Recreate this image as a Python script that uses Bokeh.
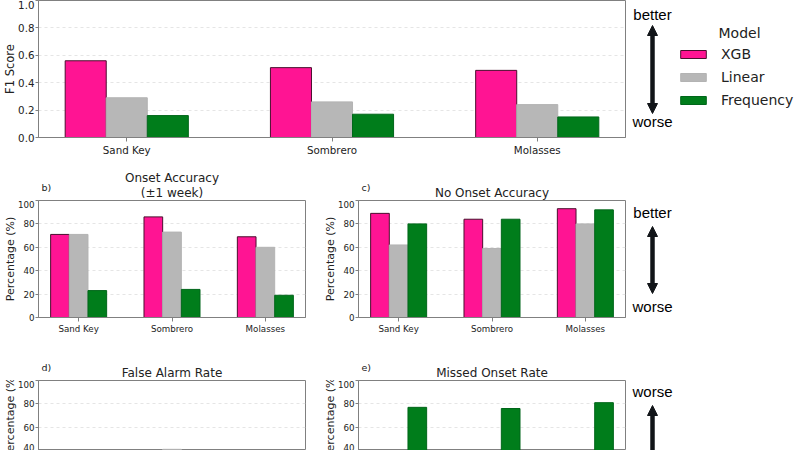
from bokeh.plotting import figure
from bokeh.models import (ColumnDataSource, Range1d, FixedTicker, Arrow, NormalHead,
                          Legend, LegendItem, PrintfTickFormatter)
from bokeh.core.properties import value
from bokeh.transform import dodge
from bokeh.layouts import column, row
from bokeh.embed import file_html
from bokeh.resources import INLINE

# --- data -------------------------------------------------------------
sites = ["Sand Key", "Sombrero", "Molasses"]
models = ["XGB", "Linear", "Frequency"]

f1_xgb = [0.56, 0.51, 0.49]
f1_linear = [0.29, 0.26, 0.24]
f1_frequency = [0.16, 0.17, 0.15]

onset_xgb = [71, 86, 69]
onset_linear = [71, 73, 60]
onset_frequency = [23, 24, 19]

no_onset_xgb = [89, 84, 93]
no_onset_linear = [62, 59, 80]
no_onset_frequency = [80, 84, 92]

false_alarm_xgb = [11, 16, 7]
false_alarm_linear = [38, 41, 20]
false_alarm_frequency = [20, 16, 8]

missed_xgb = [29, 14, 31]
missed_linear = [29, 27, 40]
missed_frequency = [77, 76, 81]

f1_ticks = [0.0, 0.2, 0.4, 0.6, 0.8, 1.0]
pct_ticks = [0, 20, 40, 60, 80, 100]

# --- styling ----------------------------------------------------------
FILL = {"XGB": "#FF1493", "Linear": "#B7B7B7", "Frequency": "#007D1B"}
EDGE = {"XGB": "#4A0F2E", "Linear": "#B3B3B3", "Frequency": "#00661A"}
OFFSET = {"XGB": -0.2, "Linear": 0.0, "Frequency": 0.2}
BAR_W = 0.2
SPINE = "#808080"
FONT = "DejaVu Sans"
ARROW_FONT = "Liberation Sans"
INK = "#111418"
TEXT = "#222222"


def make_panel(width, height, borders, y_start, y_end, ticks, values, ylabel,
               tick_px, label_px, show_x=True, y_fmt=None):
    top, right, bottom, left = borders
    p = figure(width=width, height=height,
               x_range=Range1d(-0.43, 2.43), y_range=Range1d(y_start, y_end),
               toolbar_location=None, output_backend="svg",
               x_axis_location="below" if show_x else None,
               min_border_top=top, min_border_right=right,
               min_border_bottom=bottom, min_border_left=left)
    p.background_fill_color = "white"
    p.border_fill_color = "white"
    p.outline_line_color = SPINE
    p.outline_line_width = 1

    src = ColumnDataSource(dict(x=list(range(len(sites))),
                                **{m: v for m, v in zip(models, values)}))
    for m in models:
        p.vbar(x=dodge("x", OFFSET[m], range=p.x_range), top=m, bottom=0,
               width=BAR_W, source=src, fill_color=FILL[m],
               line_color=EDGE[m], line_width=1)

    p.xgrid.visible = False
    p.ygrid.grid_line_color = "#dedede"
    p.ygrid.grid_line_dash = "3 3"
    p.ygrid.grid_line_width = 0.8
    p.ygrid.ticker = FixedTicker(ticks=ticks)

    ya = p.yaxis[0]
    ya.ticker = FixedTicker(ticks=ticks)
    if y_fmt is not None:
        ya.formatter = y_fmt
    ya.axis_label = ylabel
    ya.axis_label_text_font = FONT
    ya.axis_label_text_font_style = "normal"
    ya.axis_label_text_font_size = label_px
    ya.axis_label_text_color = TEXT
    ya.axis_label_standoff = -2
    ya.major_label_text_font = FONT
    ya.major_label_text_font_size = tick_px
    ya.major_label_text_color = TEXT
    ya.major_label_standoff = 1
    ya.axis_line_color = SPINE
    ya.major_tick_line_color = SPINE
    ya.major_tick_out = 3
    ya.major_tick_in = 0
    ya.minor_tick_line_color = None

    if show_x:
        xa = p.xaxis[0]
        xa.ticker = FixedTicker(ticks=list(range(len(sites))))
        xa.major_label_overrides = {i: s for i, s in enumerate(sites)}
        xa.major_label_text_font = FONT
        xa.major_label_text_font_size = tick_px
        xa.major_label_text_color = TEXT
        xa.major_label_standoff = 2
        xa.axis_line_color = SPINE
        xa.major_tick_line_color = SPINE
        xa.major_tick_out = 4
        xa.major_tick_in = 0
        xa.minor_tick_line_color = None
    return p, src


def blank(width, height, borders, x_span, y_span):
    """Bare canvas whose frame lines up with its neighbours; units are pixels."""
    top, right, bottom, left = borders
    p = figure(width=width, height=height, x_range=Range1d(*x_span),
               y_range=Range1d(*y_span), toolbar_location=None,
               output_backend="svg", min_border_top=top, min_border_right=right,
               min_border_bottom=bottom, min_border_left=left,
               x_axis_location=None, y_axis_location=None)
    p.outline_line_color = None
    p.background_fill_color = "white"
    p.border_fill_color = "white"
    p.grid.visible = False
    return p


def put_text(p, x, y, text, size, font=FONT, align="center", color=TEXT):
    p.text(x=[x], y=[y], text=[text], text_font=value(font),
           text_font_size=value(size), text_align=align,
           text_baseline="middle", text_color=color)


def put_arrow(p, x, y0, y1, both=True):
    head = dict(size=10, fill_color=INK, line_color=INK, line_width=1)
    p.add_layout(Arrow(x_start=x, y_start=y0, x_end=x, y_end=y1,
                       start=NormalHead(**head) if both else None,
                       end=NormalHead(**head),
                       line_color=INK, line_width=4.5))


def header(width, right, title_lines, letter):
    # frame spans canvas x 38 .. width-right, so data x equals canvas x;
    # data y is measured up from the header's bottom edge
    h = blank(width, 40, (0, right, 0, 38), (38, width - right), (0, 40))
    for text, y in title_lines:
        put_text(h, 171.5, y, text, "12px")
    put_text(h, 41, 13, letter, "9.5px", align="left")
    return h


# --- a) F1 score ------------------------------------------------------
pa, src_a = make_panel(630, 160, (0, 5, 23, 38), 0, 1.0, f1_ticks,
                       [f1_xgb, f1_linear, f1_frequency], "F1 Score",
                       "10.3px", "11.5px", y_fmt=PrintfTickFormatter(format="%.1f"))

# side canvas: data y = 160 - canvas y, frame matches the panel's frame rows
side_a = blank(170, 160, (0, 0, 23, 0), (0, 170), (23, 160))
put_text(side_a, 22, 146, "better", "15px", font=ARROW_FONT, color="#000000")
put_text(side_a, 22, 39, "worse", "15px", font=ARROW_FONT, color="#000000")
put_arrow(side_a, 22, 47, 135)
put_text(side_a, 109, 128, "Model", "14px")
# legend swatches come from hidden copies of the F1 bars
swatches = {}
for m in models:
    r = side_a.vbar(x="x", top=m, width=BAR_W, source=src_a,
                    fill_color=FILL[m], line_color=EDGE[m], line_width=1)
    r.visible = False
    swatches[m] = r
legend = Legend(items=[LegendItem(label=m, renderers=[swatches[m]]) for m in models],
                location=(47, 27), orientation="vertical", click_policy="none",
                label_text_font=FONT, label_text_font_size="14px",
                label_text_color=TEXT, label_standoff=12,
                glyph_width=32, glyph_height=10, label_height=20, spacing=3,
                padding=0, margin=0, border_line_color=None,
                background_fill_alpha=0)
side_a.add_layout(legend, "center")

# --- b) onset accuracy ------------------------------------------------
hb = header(320, 15, [("Onset Accuracy", 23), ("(\u00b11 week)", 8)], "b)")
pb, _ = make_panel(320, 140, (0, 15, 23, 38), 0, 100, pct_ticks,
                   [onset_xgb, onset_linear, onset_frequency], "Percentage (%)",
                   "8.7px", "11px")

# --- c) no onset accuracy ---------------------------------------------
hc = header(310, 5, [("No Onset Accuracy", 8)], "c)")
pc, _ = make_panel(310, 140, (0, 5, 23, 38), 0, 100, pct_ticks,
                   [no_onset_xgb, no_onset_linear, no_onset_frequency], "Percentage (%)",
                   "8.7px", "11px")

side_c = blank(170, 180, (0, 0, 0, 0), (0, 170), (0, 180))
put_text(side_c, 22, 128, "better", "15px", font=ARROW_FONT, color="#000000")
put_text(side_c, 22, 34, "worse", "15px", font=ARROW_FONT, color="#000000")
put_arrow(side_c, 22, 47, 114)

# --- d) false alarm rate ----------------------------------------------
hd = header(320, 15, [("False Alarm Rate", 8)], "d)")
pd_, _ = make_panel(320, 70, (0, 15, 0, 38), 40, 100, pct_ticks,
                    [false_alarm_xgb, false_alarm_linear, false_alarm_frequency],
                    "Percentage (%)", "8.7px", "11px", show_x=False)

# --- e) missed onset rate ---------------------------------------------
he = header(310, 5, [("Missed Onset Rate", 8)], "e)")
pe, _ = make_panel(310, 70, (0, 5, 0, 38), 40, 100, pct_ticks,
                   [missed_xgb, missed_linear, missed_frequency],
                   "Percentage (%)", "8.7px", "11px", show_x=False)

side_e = blank(170, 110, (0, 0, 0, 0), (0, 170), (0, 110))
put_text(side_e, 22, 59, "worse", "15px", font=ARROW_FONT, color="#000000")
put_arrow(side_e, 22, -100, 45, both=False)

layout = column(
    row(pa, side_a),
    row(column(hb, pb), column(hc, pc), side_c),
    row(column(hd, pd_), column(he, pe), side_e),
)
open("out.html", "w").write(file_html(layout, INLINE))
